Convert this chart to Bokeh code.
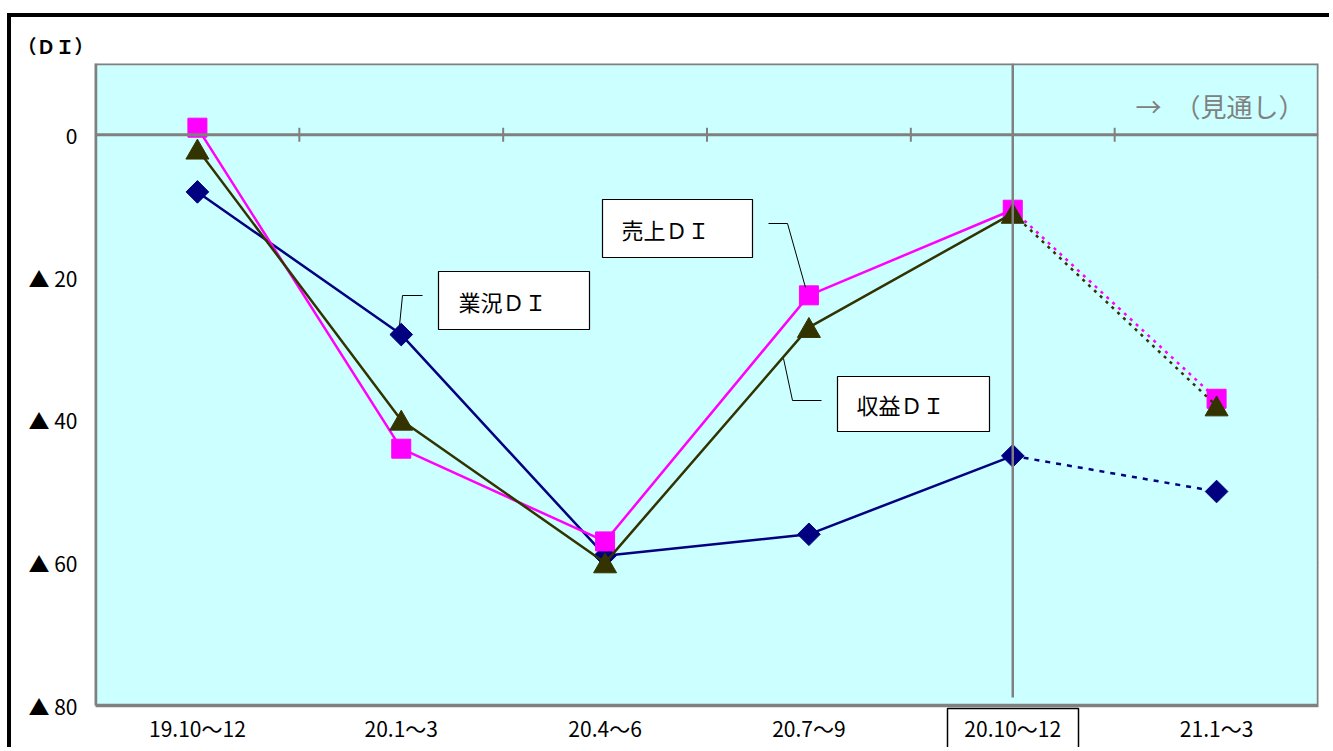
from bokeh.plotting import figure
from bokeh.models import (Range1d, FactorRange, FixedTicker, Span, Label,
                          BoxAnnotation, Arrow)
from bokeh.transform import dodge
from bokeh.embed import file_html
from bokeh.resources import INLINE

# ---------------- data ----------------
categories = ["19.10～12", "20.1～3", "20.4～6", "20.7～9", "20.10～12", "21.1～3"]
gyokyo = [-8, -28, -59, -56, -45, -50]        # 業況ＤＩ
uriage = [1, -44, -57, -22.5, -10.5, -37]     # 売上ＤＩ
shueki = [-2, -40, -60, -27, -11, -38]        # 収益ＤＩ
y_ticks = [0, -20, -40, -60, -80]
y_tick_labels = ["0", "▲ 20", "▲ 40", "▲ 60", "▲ 80"]
series_names = ["業況ＤＩ", "売上ＤＩ", "収益ＤＩ"]
unit_label = "（ＤＩ）"
outlook_label = "→　（見通し）"
outlook_category = "20.10～12"

FONT = "Noto Sans CJK JP"
Y_BOTTOM, Y_MAX = -80, 10

# reference plot-area position (page pixels)
FL, FR, FT, FB = 95, 1318, 63, 705
PAGE_BOTTOM = 751
px_per_unit = (FB - FT) / (Y_MAX - Y_BOTTOM)
Y_LOW = Y_MAX - (PAGE_BOTTOM - FT) / px_per_unit   # frame reaches page bottom

W, H = 1322, 734
p = figure(width=W, height=H, x_range=FactorRange(factors=categories),
           y_range=Range1d(Y_LOW, Y_MAX), output_backend="svg",
           toolbar_location=None, min_border_left=84, min_border_right=15,
           min_border_top=46, min_border_bottom=0)
p.styles = {"border-left": "4px solid black", "border-top": "4px solid black",
            "margin-top": "13px", "margin-left": "7px"}

p.background_fill_color = "white"
p.border_fill_color = "white"
p.outline_line_color = None

# cyan plot area and its grey border
p.add_layout(BoxAnnotation(bottom=Y_BOTTOM, fill_color="#CCFFFF", fill_alpha=1.0,
                           line_color=None, level="underlay"))
p.add_layout(BoxAnnotation(bottom=Y_BOTTOM, fill_color=None, fill_alpha=0,
                           line_color="#808080", line_width=3.5, line_alpha=1.0,
                           level="underlay"))

# grid
p.xgrid.visible = False
p.ygrid.ticker = FixedTicker(ticks=[t for t in y_ticks if t not in (0, Y_BOTTOM)])
p.ygrid.grid_line_color = "#7464B0"
p.ygrid.grid_line_width = 1.2

# y axis
p.yaxis.ticker = FixedTicker(ticks=y_ticks)
p.yaxis.major_label_overrides = {t: l for t, l in zip(y_ticks, y_tick_labels)}
p.yaxis.bounds = (Y_BOTTOM, Y_MAX)
p.yaxis.axis_line_color = "#808080"
p.yaxis.axis_line_width = 2
p.yaxis.major_tick_line_color = None
p.yaxis.major_tick_out = 0
p.yaxis.major_tick_in = 0
p.yaxis.minor_tick_line_color = None
p.yaxis.major_label_standoff = 18
p.yaxis.major_label_text_font = FONT
p.yaxis.major_label_text_font_size = "21px"
p.yaxis.major_label_text_color = "black"

# x axis, pinned to the bottom of the plot area
p.xaxis.fixed_location = Y_BOTTOM
p.xaxis.axis_line_color = None
p.xaxis.major_tick_line_color = None
p.xaxis.major_tick_out = 0
p.xaxis.major_tick_in = 0
p.xaxis.major_label_standoff = 7
p.xaxis.major_label_text_font = FONT
p.xaxis.major_label_text_font_size = "21px"
p.xaxis.major_label_text_color = "black"

# unit label as the title (top left, outside the plot area)
p.title.text = unit_label
p.title.align = "left"
p.title.offset = 17 - FL
p.title.standoff = 10
p.title.text_font = FONT
p.title.text_font_size = "19px"
p.title.text_font_style = "bold"
p.title.text_color = "black"

# zero line with category boundary ticks
p.add_layout(Span(location=0, dimension="width", line_color="#808080", line_width=3))
tick_half = 7 / px_per_unit
bounds = list(range(1, len(categories)))
p.segment(x0=bounds, y0=[-tick_half] * len(bounds), x1=bounds,
          y1=[tick_half] * len(bounds), line_color="#808080", line_width=2)

# helpers: convert reference page pixel positions to data coordinates
def dx(px):
    return (px - FL) / (FR - FL) * len(categories)

def dy(py):
    return Y_MAX - (py - FT) / px_per_unit

# vertical separator at outlook start
xo = categories.index(outlook_category) + 0.5
p.add_layout(Arrow(end=None, x_start=xo, y_start=Y_MAX, x_end=xo,
                   y_end=dy(697), line_color="#808080", line_width=2.5))

# series
k = categories.index(outlook_category)
TRI = 23
tri_shift = -(0.866 * TRI / 6) / px_per_unit   # centre triangle box on value
specs = [
    (gyokyo, "#000080", "square", 16, 0.785398, "5 6", 0.0),
    (uriage, "#FF00FF", "square", 19, 0.0, "3 5", 0.0),
    (shueki, "#333300", "triangle", TRI, 0.0, "3 5", tri_shift),
]
for vals, col, mk, sz, ang, dash, shift in specs:
    p.line(categories[:k + 1], vals[:k + 1], line_color=col, line_width=2.5)
    p.line(categories[k:], vals[k:], line_color=col, line_width=2.5, line_dash=dash)
    src = dict(x=categories, y=vals)
    p.scatter(x="x", y=dodge("y", shift, range=p.y_range), source=src,
              marker=mk, size=sz, angle=ang, fill_color=col, line_color=col)

# callout boxes
boxes = [
    # name, left, top, right, bottom, text_left
    (series_names[0], 438, 271, 589, 329, 458),
    (series_names[1], 602, 199, 752, 257, 621),
    (series_names[2], 837, 376, 989, 431, 856),
]
for name, l, t, r, b, tl in boxes:
    p.add_layout(BoxAnnotation(left=dx(l), right=dx(r), top=dy(t), bottom=dy(b),
                               fill_color="white", fill_alpha=1.0,
                               line_color="black", line_width=1.2, line_alpha=1.0))
    p.add_layout(Label(x=dx(tl), y=dy((t + b) / 2), text=name, text_font=FONT,
                       text_font_size="22px", text_align="left",
                       text_baseline="middle", text_color="black"))

# callout leader lines
leaders = [
    [(422, 295), (402, 295), (399, 325)],
    [(768, 223), (787, 223), (805, 287)],
    [(821, 400), (792, 400), (783, 358)],
]
for pts in leaders:
    for (x0, y0), (x1, y1) in zip(pts[:-1], pts[1:]):
        p.add_layout(Arrow(end=None, x_start=dx(x0), y_start=dy(y0),
                           x_end=dx(x1), y_end=dy(y1), line_color="black",
                           line_width=1))

# outlook note and the box round the outlook category label
p.add_layout(Label(x=dx(1135), y=dy(105), text=outlook_label, text_font=FONT,
                   text_font_size="26px", text_baseline="middle",
                   text_color="#808080"))
p.add_layout(BoxAnnotation(left=dx(947), right=dx(1078), top=dy(708),
                           bottom=dy(749), fill_color=None, fill_alpha=0,
                           line_color="black", line_width=1.5, line_alpha=1.0))

open("out.html", "w").write(file_html(p, INLINE))
